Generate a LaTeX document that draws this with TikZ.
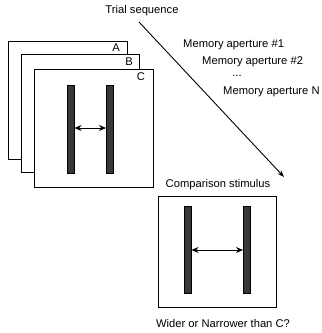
\documentclass[tikz,border=0pt]{standalone}
\usepackage{fontspec}
\setmainfont{Liberation Sans}
\usetikzlibrary{arrows.meta}
\begin{document}
\begin{tikzpicture}[x=1pt,y=-1pt,
  txt/.style={inner sep=0pt,font=\fontsize{11.2}{13}\selectfont},
  card/.style={draw=black,fill=white,line width=0.8pt,anchor=north west,inner sep=0pt},
  bar/.style={draw=black,fill=black!78,line width=0.5pt,anchor=north west,inner sep=0pt,minimum width=7pt},
  gap/.style={{Stealth[length=7pt,width=6pt]}-{Stealth[length=7pt,width=6pt]},line width=0.9pt},
  seq/.style={-{Stealth[length=7pt,width=5pt]},line width=0.9pt}]
\useasboundingbox (0,0) rectangle (322,333);
% stacked cards
\node[card,minimum width=119pt,minimum height=118pt] (A) at (8,41) {};
\node[txt] (la) at (116,48) {A};
\node[card,minimum width=118pt,minimum height=118pt] (B) at (21,54) {};
\node[txt] (lb) at (129,62) {B};
\node[card,minimum width=119pt,minimum height=118pt] (C) at (34,69) {};
\node[txt] (lc) at (141,77) {C};
\node[bar,minimum height=88pt] (c1) at (67,85) {};
\node[bar,minimum height=88pt] (c2) at (106,85) {};
\draw[gap] (c1.east |- 0,128) -- (c2.west |- 0,128);
% trial sequence
\node[txt] (trial) at (142,11) {Trial sequence};
\coordinate (s) at (139,22);
\coordinate (e) at (284,177);
\draw[seq] (s) -- (e);
\node[txt,anchor=west] (m1) at (183,45) {Memory aperture \#1};
\node[txt,anchor=west] (m2) at (202,62) {Memory aperture \#2};
\node[txt] (dots) at (237,76) {...};
\node[txt,anchor=west] (mn) at (223,92) {Memory aperture N};
% comparison
\node[txt] (cs) at (218,185) {Comparison stimulus};
\node[card,minimum width=118pt,minimum height=111pt] (D) at (158,196) {};
\node[bar,minimum height=87pt] (d1) at (184,206) {};
\node[bar,minimum height=87pt] (d2) at (243,206) {};
\draw[gap] (d1.east |- 0,250) -- (d2.west |- 0,250);
\node[txt] (q) at (223,323) {Wider or Narrower than C?};
\end{tikzpicture}
\end{document}
